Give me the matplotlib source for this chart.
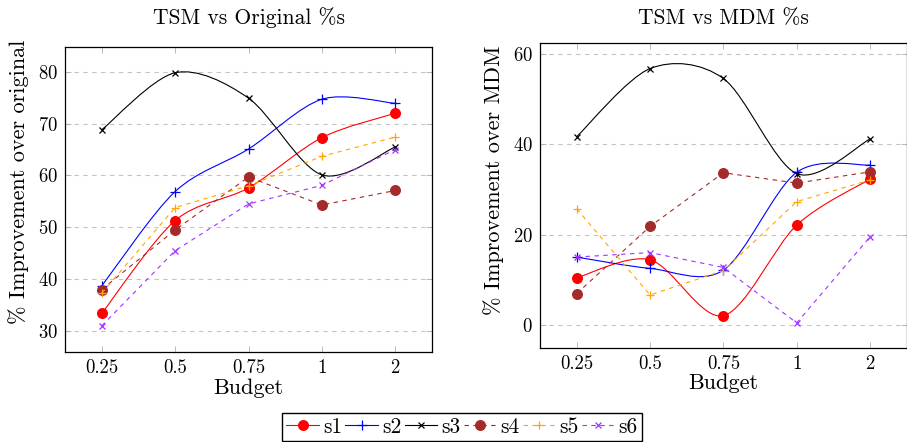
import matplotlib
matplotlib.use("Agg")
import matplotlib.pyplot as plt
from matplotlib.path import Path
from matplotlib.patches import PathPatch
from matplotlib.lines import Line2D

plt.rcParams['font.family'] = ['cmr10', 'DejaVu Serif']
plt.rcParams['mathtext.fontset'] = 'cm'
plt.rcParams['axes.formatter.use_mathtext'] = True

budgets = ["0.25", "0.5", "0.75", "1", "2"]
names = ["s1", "s2", "s3", "s4", "s5", "s6"]

# % improvement over original
orig_s1 = [33.4, 51.3, 57.6, 67.3, 72.0]
orig_s2 = [38.7, 56.9, 65.1, 74.7, 73.9]
orig_s3 = [68.8, 79.8, 74.9, 60.1, 65.5]
orig_s4 = [38.0, 49.5, 59.7, 54.3, 57.1]
orig_s5 = [37.3, 53.8, 58.0, 63.7, 67.4]
orig_s6 = [31.0, 45.5, 54.5, 58.1, 65.0]

# % improvement over MDM
mdm_s1 = [10.4, 14.4, 2.0, 22.1, 32.3]
mdm_s2 = [15.0, 12.5, 12.1, 33.8, 35.4]
mdm_s3 = [41.7, 56.8, 54.6, 33.5, 41.2]
mdm_s4 = [6.9, 21.8, 33.7, 31.4, 33.9]
mdm_s5 = [25.7, 6.6, 12.0, 27.3, 32.1]
mdm_s6 = [15.0, 16.0, 12.7, 0.4, 19.5]

colors = ["#ff0000", "#0000ff", "#000000", "#a52a2a", "#ffa500", "#a033ff"]
markers = ["o", "+", "x", "o", "+", "x"]
msizes = [7, 7, 5, 7, 6, 5]
smooth = [True, True, True, False, False, False]
DASH = (0, (4, 4))


def smooth_path(xs, ys, tension=0.1526):
    # pgfplots-style smooth curve through the points
    pts = list(zip(xs, ys))
    n = len(pts)
    verts = [pts[0]]
    codes = [Path.MOVETO]
    for i in range(n - 1):
        p0 = pts[i - 1] if i > 0 else pts[i]
        p1 = pts[i]
        p2 = pts[i + 1]
        p3 = pts[i + 2] if i + 2 < n else pts[i + 1]
        c1 = (p1[0] + tension * (p2[0] - p0[0]), p1[1] + tension * (p2[1] - p0[1]))
        c2 = (p2[0] - tension * (p3[0] - p1[0]), p2[1] - tension * (p3[1] - p1[1]))
        verts += [c1, c2, p2]
        codes += [Path.CURVE4] * 3
    return Path(verts, codes)


def draw_panel(ax, series, title, ylabel, ylim, yticks, label_y):
    x = list(range(len(budgets)))
    for k, ys in enumerate(series):
        c = colors[k]
        if smooth[k]:
            ax.add_patch(PathPatch(smooth_path(x, ys), fill=False, edgecolor=c,
                                   lw=0.8, zorder=3))
            ax.plot(x, ys, ls="none", marker=markers[k], ms=msizes[k], color=c,
                    mew=0.9, zorder=4)
        else:
            ax.plot(x, ys, ls=DASH, lw=0.8, marker=markers[k], ms=msizes[k],
                    color=c, mew=0.9, zorder=4)
    ax.set_xlim(-0.5, 4.5)
    ax.set_ylim(*ylim)
    ax.set_xticks(x)
    ax.set_xticklabels(budgets)
    ax.set_yticks(yticks)
    ax.yaxis.grid(True, color="#c4c4c4", ls=(0, (4, 4)), lw=0.8)
    ax.set_axisbelow(True)
    ax.tick_params(direction="in", length=4, width=0.6, color="#b0b0b0",
                   labelsize=13.5, top=True, right=True, pad=5)
    for s in ax.spines.values():
        s.set_linewidth(0.9)
    bb = ax.get_position()
    ax.figure.text((bb.x0 + bb.x1) / 2, 1 - 18 / 442, title, fontsize=15.5,
                   ha="center", va="center")
    ax.set_xlabel("Budget", fontsize=16, labelpad=1)
    ax.set_ylabel(ylabel, fontsize=16)
    ax.yaxis.set_label_coords(-0.099, label_y)


fig = plt.figure(figsize=(9.07, 4.42), dpi=100)
ax1 = fig.add_axes([0.0717, 0.2029, 0.4046, 0.690])
ax2 = fig.add_axes([0.5954, 0.2133, 0.4043, 0.6887])

draw_panel(ax1, [orig_s1, orig_s2, orig_s3, orig_s4, orig_s5, orig_s6],
           "TSM vs Original %s", "% Improvement over original",
           (25.9, 84.7), [30, 40, 50, 60, 70, 80], 0.56)
draw_panel(ax2, [mdm_s1, mdm_s2, mdm_s3, mdm_s4, mdm_s5, mdm_s6],
           "TSM vs MDM %s", "% Improvement over MDM",
           (-5.1, 62.4), [0, 20, 40, 60], 0.55)

handles = []
for k in range(6):
    handles.append(Line2D([], [], color=colors[k], lw=0.8,
                          ls="-" if smooth[k] else DASH,
                          marker=markers[k], ms=msizes[k], mew=0.9))
fig.legend(handles, names, loc="upper center", bbox_to_anchor=(462 / 907, 1 - 413 / 442),
           ncol=6, frameon=True, fancybox=False, edgecolor="black", fontsize=15.5,
           handlelength=1.5, handletextpad=0.2, columnspacing=0.15,
           borderpad=0.2, borderaxespad=0, framealpha=1)

fig.savefig("out.png", dpi=100)
